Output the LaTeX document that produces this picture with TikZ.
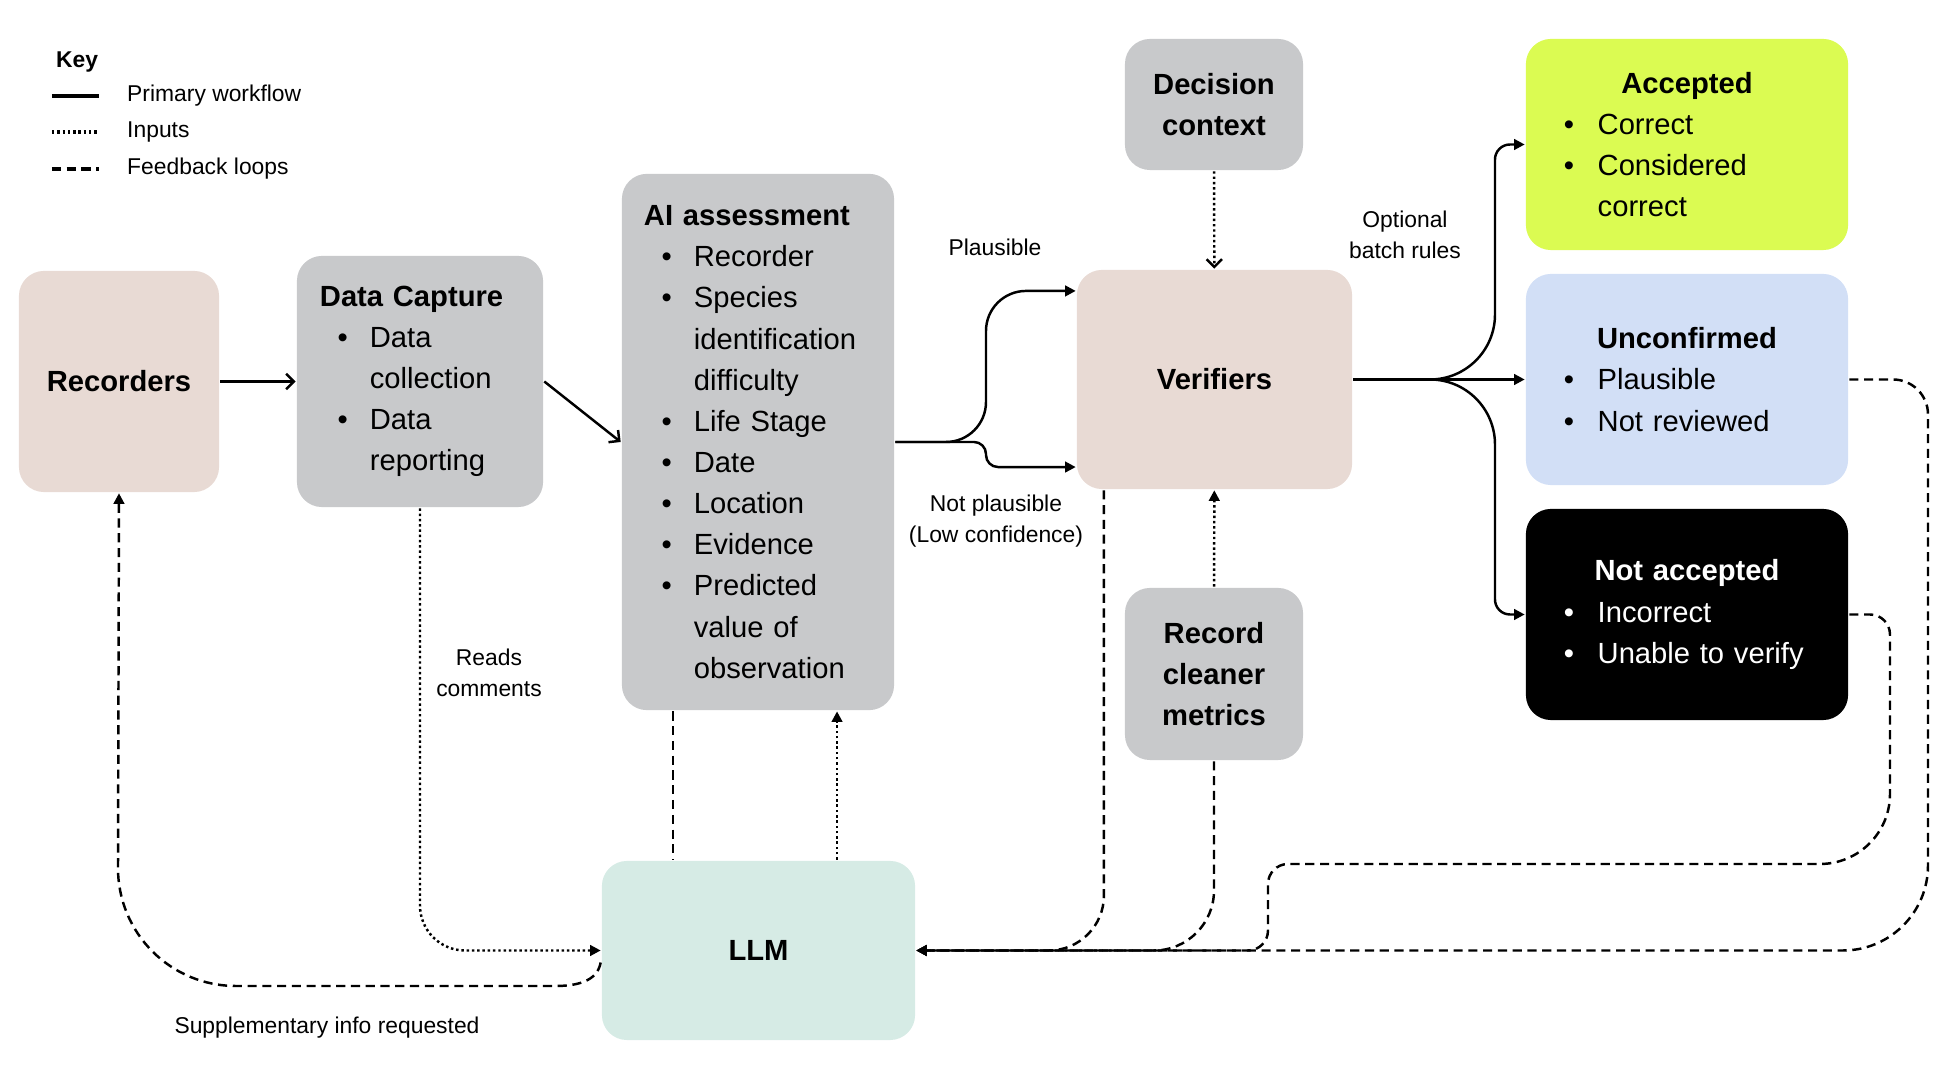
\documentclass[tikz,border=0pt]{standalone}
\usepackage{fontspec}
\setmainfont{Liberation Sans}
\usetikzlibrary{arrows.meta}
\definecolor{rose}{RGB}{232,218,212}
\definecolor{greybox}{RGB}{200,201,203}
\definecolor{lime}{RGB}{219,251,82}
\definecolor{paleblue}{RGB}{210,223,246}
\definecolor{mint}{RGB}{214,235,229}
\newcommand{\mainsize}{\fontsize{8.3pt}{11.7pt}\selectfont}
\newcommand{\smallsize}{\fontsize{6.5pt}{8.8pt}\selectfont}
\newcommand{\bitem}[1]{\hspace*{5pt}\makebox[9.2pt][l]{\textbullet}#1}
\newcommand{\bcont}[1]{\hspace*{14.2pt}#1}
\newcommand{\ritem}[1]{\makebox[9.6pt][l]{\textbullet}#1}
\newcommand{\rcont}[1]{\hspace*{9.6pt}#1}
\newcommand{\rhead}[1]{\makebox[\hsize]{\textbf{#1}}}
\begin{document}
\begin{tikzpicture}[x=0.01cm,y=-0.01cm,line width=0.7pt,
  box/.style={rounded corners=0.25cm,inner sep=0pt,align=center,font=\mainsize\bfseries},
  listbox/.style={rounded corners=0.25cm,inner ysep=0pt,align=left,font=\mainsize},
  lbl/.style={font=\smallsize,inner sep=0pt},
  inp/.style={dash pattern=on 0.7pt off 0.8pt},
  fb/.style={dash pattern=on 2.6pt off 1.6pt},
  tri/.style={-{Triangle[length=3pt,width=3pt]}},
  barb/.style={-{Straight Barb[length=2.2pt,width=4.4pt]}}]
  \useasboundingbox (0,0) rectangle (1950,1080);
  % key
  \node[lbl,anchor=west,font=\smallsize\bfseries] (key) at (55,62) {Key};
  \node[lbl,anchor=west] (kflow) at (126,96) {Primary workflow};
  \node[lbl,anchor=west] (kinp) at (126,132) {Inputs};
  \node[lbl,anchor=west] (kfb) at (126,169) {Feedback loops};
  \draw[line width=0.9pt] ([xshift=-0.74cm]kflow.west) -- ++(47,0);
  \draw[inp,line width=0.9pt] ([xshift=-0.74cm]kinp.west) -- ++(47,0);
  \draw[fb,line width=0.9pt] ([xshift=-0.74cm]kfb.west) -- ++(47,0);
  % boxes
  \node[box,fill=rose,minimum width=2cm,minimum height=2.21cm] (rec) at (119,381.5) {Recorders};
  \node[listbox,fill=greybox,text width=2cm,inner xsep=0.23cm,minimum height=2.51cm] (dc) at (420,381.5)
    {\textbf{Data Capture}\\\bitem{Data}\\\bcont{collection}\\\bitem{Data}\\\bcont{reporting}};
  \node[listbox,fill=greybox,text width=2.28cm,inner xsep=0.22cm,minimum height=5.36cm] (ai) at (758,442)
    {\textbf{AI assessment}\\\bitem{Recorder}\\\bitem{Species}\\\bcont{identification}\\\bcont{difficulty}\\
     \bitem{Life Stage}\\\bitem{Date}\\\bitem{Location}\\\bitem{Evidence}\\\bitem{Predicted}\\\bcont{value of}\\\bcont{observation}};
  \node[box,fill=greybox,minimum width=1.78cm,minimum height=1.31cm] (dec) at (1214,104.5) {Decision\\context};
  \node[box,fill=rose,minimum width=2.75cm,minimum height=2.19cm] (ver) at (1214.5,379.5) {Verifiers};
  \node[box,fill=greybox,minimum width=1.78cm,minimum height=1.72cm] (rcm) at (1214,674) {Record\\cleaner\\metrics};
  \node[listbox,fill=lime,text width=2.46cm,inner xsep=0.38cm,minimum height=2.11cm] (acc) at (1687,144.5)
    {\rhead{Accepted}\\\ritem{Correct}\\\ritem{Considered}\\\rcont{correct}};
  \node[listbox,fill=paleblue,text width=2.46cm,inner xsep=0.38cm,minimum height=2.11cm] (unc) at (1687,379.5)
    {\rhead{Unconfirmed}\\\ritem{Plausible}\\\ritem{Not reviewed}};
  \node[listbox,fill=black,text=white,text width=2.46cm,inner xsep=0.38cm,minimum height=2.11cm] (nac) at (1687,614.5)
    {\rhead{Not accepted}\\\ritem{Incorrect}\\\ritem{Unable to verify}};
  \node[box,fill=mint,minimum width=3.13cm,minimum height=1.79cm] (llm) at (758.5,950.5) {LLM};
  % labels
  \node[lbl] (plaus) at (995,247) {Plausible};
  \node[lbl,align=center] (notpl) at (996,521) {Not plausible\\(Low confidence)};
  \node[lbl,align=center] (batch) at (1405,235) {Optional\\batch rules};
  \node[lbl,align=center] (reads) at (489,673) {Reads\\comments};
  \node[lbl] (supp) at (327,1028) {Supplementary info requested};
  % primary workflow
  \draw[barb] (rec) -- (dc);
  \draw[barb] (dc.east) -- (ai.west);
  \draw[tri,rounded corners=0.4cm] (ai.east) -- (986,442) |- ([yshift=0.885cm]ver.west);
  \draw[tri,rounded corners=0.12cm] (ai.east) -- (986,442) |- ([yshift=-0.875cm]ver.west);
  \draw[tri] (ver.east) [rounded corners=0.65cm] -- (1495,379.5) [rounded corners=0.15cm] |- (acc.west);
  \draw[tri] (ver.east) -- (unc.west);
  \draw[tri] (ver.east) [rounded corners=0.65cm] -- (1495,379.5) [rounded corners=0.15cm] |- (nac.west);
  % inputs
  \draw[inp,barb] (dec) -- (ver);
  \draw[inp,tri] (rcm) -- (ver);
  \draw[inp,tri,rounded corners=0.45cm] (dc.south) |- (llm.west);
  \draw[inp,tri] ([xshift=0.79cm]ai.south |- llm.north) -- ([xshift=0.79cm]ai.south);
  % feedback loops
  \draw[fb] ([xshift=-0.85cm]ai.south) -- ([xshift=-0.85cm]ai.south |- llm.north);
  \draw[fb,tri,rounded corners=0.55cm] ([xshift=-1.105cm]ver.south) |- (llm.east);
  \draw[fb,tri,rounded corners=0.6cm] (rcm.south) |- (llm.east);
  \draw[fb,tri] (nac.east) [rounded corners=0.2cm] -- (1890,614.5) [rounded corners=0.7cm] -- (1890,864)
    [rounded corners=0.2cm] -- (1268,864) -- (1268,950.5) -- (llm.east);
  \draw[fb,tri] (unc.east) [rounded corners=0.35cm] -- (1928,379.5) [rounded corners=0.85cm] |- (llm.east);
  \draw[fb,tri] ([yshift=-0.12cm]llm.west) to[out=-100,in=0] (555,986) -- (236,986)
    to[out=180,in=-90] (118,868) -- (rec.south);
\end{tikzpicture}
\end{document}
